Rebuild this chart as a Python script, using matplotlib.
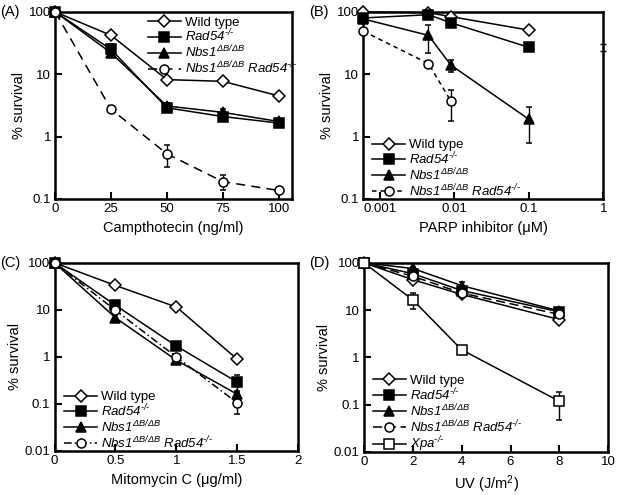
import matplotlib
matplotlib.use("Agg")
import matplotlib.pyplot as plt
from matplotlib import ticker

plt.rcParams['font.family'] = ['Liberation Sans', 'DejaVu Sans']
plt.rcParams['mathtext.fontset'] = 'custom'
plt.rcParams['mathtext.rm'] = 'Liberation Sans'
plt.rcParams['mathtext.it'] = 'Liberation Sans:italic'
# sf slot used for fully italic gene names (digits included)
plt.rcParams['mathtext.sf'] = 'Liberation Sans:italic'

# labels
lab_wt = 'Wild type'
lab_rad = r'$\mathsf{Rad54}^{\mathsf{‐/‐}}$'
lab_nbs = r'$\mathsf{Nbs1}^{\mathsf{ΔB/ΔB}}$'
lab_dbl = r'$\mathsf{Nbs1}^{\mathsf{ΔB/ΔB}}\ \mathsf{Rad54}^{\mathsf{‐/‐}}$'
lab_xpa = r'$\mathsf{Xpa}^{\mathsf{‐/‐}}$'

# (A) campthotecin
a_x = [0, 25, 50, 75, 100]
a_wt = [100, 42, 8.2, 7.7, 4.5]
a_rad = [100, 25, 2.9, 2.1, 1.65]
a_rad_err = [0, 6, 0.3, 0.3, 0.15]
a_nbs = [100, 22, 3.1, 2.45, 1.75]
a_nbs_err = [0, 3, 0.3, 0.35, 0.15]
a_dbl = [100, 2.75, 0.53, 0.19, 0.137]
a_dbl_err = [0, 0.2, 0.2, 0.05, 0.012]

# (B) PARP inhibitor
b_x = [0.0006, 0.0045, 0.009, 0.1]
b_wt = [100, 97, 84, 51]
b_rad = [80, 90, 67, 27]
b_rad_err = [5, 10, 8, 3]
b_nbs = [77, 42, 14, 1.9]
b_nbs_err = [8, 20, 3, 1.1]
b_dbl_x = [0.0006, 0.0045, 0.009]
b_dbl = [49, 14.8, 3.7]
b_dbl_err = [3, 1.5, 1.9]
b_stray_x = [1.0]
b_stray_y = [27]

# (C) mitomycin C
c_x = [0, 0.5, 1.0, 1.5]
c_wt = [100, 33, 11.5, 0.89]
c_wt_err = [0, 3, 1.5, 0.1]
c_rad = [100, 12.5, 1.7, 0.29]
c_rad_err = [0, 1, 0.2, 0.12]
c_nbs = [100, 6.8, 0.85, 0.16]
c_nbs_err = [0, 1, 0.15, 0.03]
c_dbl = [100, 9.8, 1.0, 0.105]
c_dbl_err = [0, 1, 0.1, 0.045]

# (D) UV
d_x = [0, 2, 4, 8]
d_wt = [100, 44, 21.5, 6.3]
d_rad = [100, 59, 26, 9.2]
d_nbs = [100, 76, 33, 9.6]
d_nbs_err = [0, 5, 6, 1]
d_dbl = [100, 52, 23, 8.1]
d_xpa = [100, 16.5, 1.45, 0.118]
d_xpa_err = [0, 6, 0.1, 0.07]

fig = plt.figure(figsize=(6.2, 4.95), dpi=100)
axA = fig.add_axes([0.089, 0.598, 0.382, 0.378])
axB = fig.add_axes([0.586, 0.598, 0.387, 0.378])
axC = fig.add_axes([0.088, 0.089, 0.393, 0.380])
axD = fig.add_axes([0.587, 0.087, 0.394, 0.382])

lw = 1.1
ms = 6.5


def series(ax, x, y, err, marker, fill, ls, dashes=None, ms_=ms):
    kw = dict(marker=marker, color='black', mfc=fill, mec='black', mew=1.1,
              ms=ms_, lw=lw, ls=ls, capsize=2.5, elinewidth=1.0,
              capthick=1.0, clip_on=False, zorder=3)
    if err is None:
        h = ax.errorbar(x, y, **kw)
    else:
        h = ax.errorbar(x, y, yerr=err, **kw)
    if dashes is not None:
        h[0].set_dashes(dashes)
    return h[0]


def style(ax, ylo, ticks, ticklabels):
    ax.set_yscale('log')
    ax.set_ylim(ylo, 100)
    ax.yaxis.set_major_locator(ticker.FixedLocator(ticks))
    ax.yaxis.set_major_formatter(ticker.FixedFormatter(ticklabels))
    ax.yaxis.set_minor_locator(ticker.NullLocator())
    for s in ax.spines.values():
        s.set_linewidth(1.8)
    ax.tick_params(direction='in', length=5, width=1.5, labelsize=9.5, pad=3)
    ax.set_ylabel('% survival', fontsize=10.5, labelpad=2)


def legend(ax, handles, labels, **kw):
    ax.legend(handles, labels, frameon=False, fontsize=9.5, handlelength=2.5,
              labelspacing=-0.05, handletextpad=0.3, borderpad=0,
              borderaxespad=0, **kw)


labs4 = [lab_wt, lab_rad, lab_nbs, lab_dbl]

# (A)
hA = [series(axA, a_x, a_wt, None, 'D', 'white', '-', ms_=6),
      series(axA, a_x, a_rad, a_rad_err, 's', 'black', '-'),
      series(axA, a_x, a_nbs, a_nbs_err, '^', 'black', '-'),
      series(axA, a_x, a_dbl, a_dbl_err, 'o', 'white', '--', dashes=(6, 4))]
style(axA, 0.1, [0.1, 1, 10, 100], ['0.1', '1', '10', '100'])
axA.set_xlim(0, 106)
axA.set_xticks([0, 25, 50, 75, 100])
axA.set_xlabel('Campthotecin (ng/ml)', fontsize=10.5)
legend(axA, hA, labs4, loc='upper right', bbox_to_anchor=(1.02, 0.975))

# (B)
hB = [series(axB, b_x, b_wt, None, 'D', 'white', '-', ms_=6),
      series(axB, b_x, b_rad, b_rad_err, 's', 'black', '-'),
      series(axB, b_x, b_nbs, b_nbs_err, '^', 'black', '-'),
      series(axB, b_dbl_x, b_dbl, b_dbl_err, 'o', 'white', '--', dashes=(3, 2.5))]
axB.errorbar(b_stray_x, b_stray_y, yerr=[3], fmt='none', ecolor='black',
             capsize=2.5, elinewidth=1.0, clip_on=False)
style(axB, 0.1, [0.1, 1, 10, 100], ['0.1', '1', '10', '100'])
axB.set_xscale('log')
axB.set_xlim(0.0006, 1)
axB.xaxis.set_major_locator(ticker.FixedLocator([0.001, 0.01, 0.1, 1]))
axB.xaxis.set_major_formatter(ticker.FixedFormatter(['0.001', '0.01', '0.1', '1']))
axB.xaxis.set_minor_locator(ticker.NullLocator())
axB.set_xlabel('PARP inhibitor (μM)', fontsize=10.5)
legend(axB, hB, labs4, loc='lower left', bbox_to_anchor=(0.037, 0.0))

# (C)
hC = [series(axC, c_x, c_wt, c_wt_err, 'D', 'white', '-', ms_=6),
      series(axC, c_x, c_rad, c_rad_err, 's', 'black', '-'),
      series(axC, c_x, c_nbs, c_nbs_err, '^', 'black', '-'),
      series(axC, c_x, c_dbl, c_dbl_err, 'o', 'white', '--', dashes=(5, 2, 1, 2))]
style(axC, 0.01, [0.01, 0.1, 1, 10, 100], ['0.01', '0.1', '1', '10', '100'])
axC.set_xlim(0, 2)
axC.set_xticks([0, 0.5, 1, 1.5, 2])
axC.set_xticklabels(['0', '0.5', '1', '1.5', '2'])
axC.set_xlabel('Mitomycin C (μg/ml)', fontsize=10.5)
legend(axC, hC, labs4, loc='lower left', bbox_to_anchor=(0.04, 0.0))

# (D)
hD = [series(axD, d_x, d_wt, None, 'D', 'white', '-', ms_=6),
      series(axD, d_x, d_rad, None, 's', 'black', '-'),
      series(axD, d_x, d_nbs, d_nbs_err, '^', 'black', '-'),
      series(axD, d_x, d_dbl, None, 'o', 'white', '--', dashes=(6, 3)),
      series(axD, d_x, d_xpa, d_xpa_err, 's', 'white', '-', ms_=7)]
style(axD, 0.01, [0.01, 0.1, 1, 10, 100], ['0.01', '0.1', '1', '10', '100'])
axD.set_xlim(0, 10)
axD.set_xticks([0, 2, 4, 6, 8, 10])
axD.set_xlabel('UV (J/m$^2$)', fontsize=10.5)
legend(axD, hD, labs4 + [lab_xpa], loc='lower left', bbox_to_anchor=(0.037, -0.01))

for ax, lab in [(axA, '(A)'), (axB, '(B)'), (axC, '(C)'), (axD, '(D)')]:
    pos = ax.get_position()
    fig.text(pos.x0 - 0.088, pos.y1, lab, fontsize=10.5, va='center', ha='left')

fig.savefig('out.png', dpi=100)
